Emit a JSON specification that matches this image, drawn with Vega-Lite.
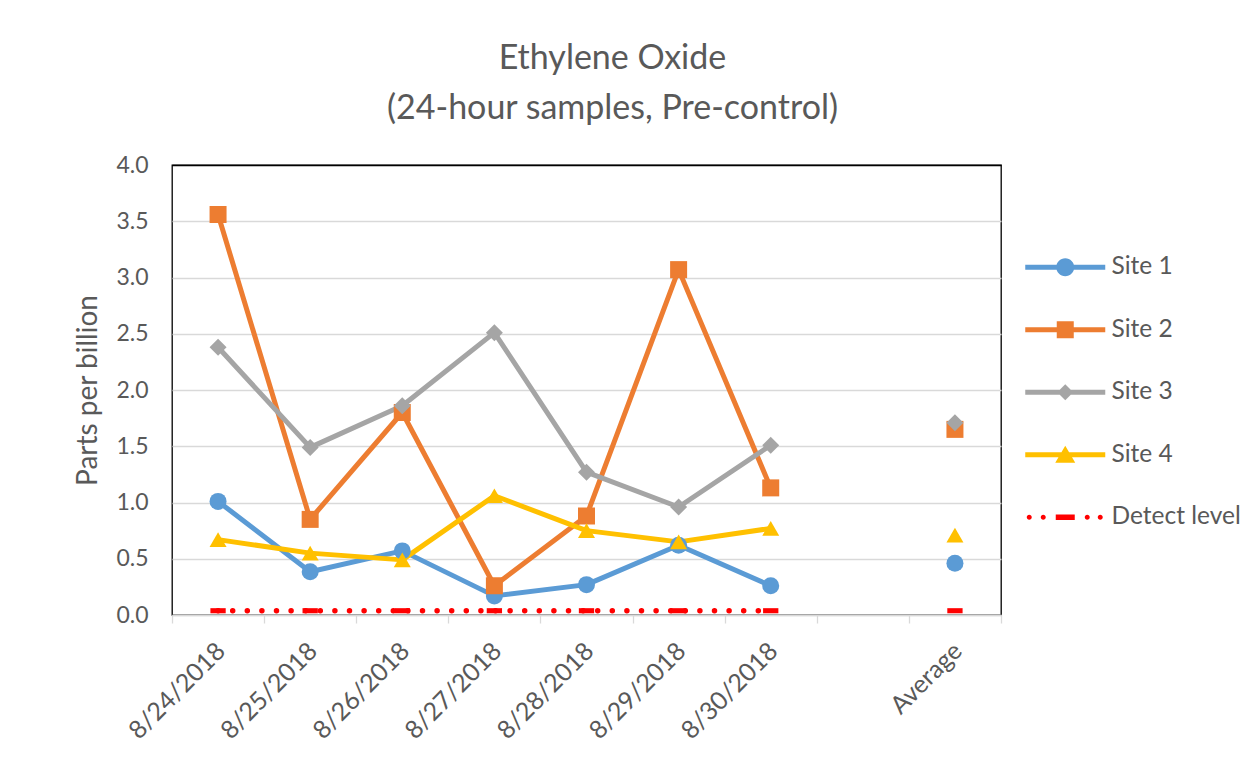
{
  "$schema": "https://vega.github.io/schema/vega-lite/v6.json",
  "width": 829,
  "height": 450,
  "autosize": {"type": "none"},
  "padding": {"left": 172, "top": 165, "right": 251, "bottom": 169},
  "background": "white",
  "title": {
    "text": ["Ethylene Oxide", "(24-hour samples, Pre-control)"],
    "font": "Lato",
    "fontSize": 34,
    "fontWeight": "normal",
    "color": "#595959",
    "lineHeight": 50,
    "offset": 28,
    "dx": 26,
    "anchor": "middle",
    "frame": "group"
  },
  "data": {
    "values": [
      {"date": "8/24/2018", "series": "Site 1", "value": 1.01},
      {"date": "8/25/2018", "series": "Site 1", "value": 0.385},
      {"date": "8/26/2018", "series": "Site 1", "value": 0.57},
      {"date": "8/27/2018", "series": "Site 1", "value": 0.17},
      {"date": "8/28/2018", "series": "Site 1", "value": 0.27},
      {"date": "8/29/2018", "series": "Site 1", "value": 0.62},
      {"date": "8/30/2018", "series": "Site 1", "value": 0.26},
      {"date": "Average", "series": "Site 1", "value": 0.46},
      {"date": "8/24/2018", "series": "Site 2", "value": 3.56},
      {"date": "8/25/2018", "series": "Site 2", "value": 0.85},
      {"date": "8/26/2018", "series": "Site 2", "value": 1.8},
      {"date": "8/27/2018", "series": "Site 2", "value": 0.26},
      {"date": "8/28/2018", "series": "Site 2", "value": 0.88},
      {"date": "8/29/2018", "series": "Site 2", "value": 3.07},
      {"date": "8/30/2018", "series": "Site 2", "value": 1.13},
      {"date": "Average", "series": "Site 2", "value": 1.65},
      {"date": "8/24/2018", "series": "Site 3", "value": 2.38},
      {"date": "8/25/2018", "series": "Site 3", "value": 1.49},
      {"date": "8/26/2018", "series": "Site 3", "value": 1.86},
      {"date": "8/27/2018", "series": "Site 3", "value": 2.51},
      {"date": "8/28/2018", "series": "Site 3", "value": 1.27},
      {"date": "8/29/2018", "series": "Site 3", "value": 0.96},
      {"date": "8/30/2018", "series": "Site 3", "value": 1.51},
      {"date": "Average", "series": "Site 3", "value": 1.71},
      {"date": "8/24/2018", "series": "Site 4", "value": 0.67},
      {"date": "8/25/2018", "series": "Site 4", "value": 0.55},
      {"date": "8/26/2018", "series": "Site 4", "value": 0.49},
      {"date": "8/27/2018", "series": "Site 4", "value": 1.06},
      {"date": "8/28/2018", "series": "Site 4", "value": 0.75},
      {"date": "8/29/2018", "series": "Site 4", "value": 0.65},
      {"date": "8/30/2018", "series": "Site 4", "value": 0.77},
      {"date": "Average", "series": "Site 4", "value": 0.71},
      {"date": "8/24/2018", "series": "Detect level", "value": 0.038},
      {"date": "8/25/2018", "series": "Detect level", "value": 0.038},
      {"date": "8/26/2018", "series": "Detect level", "value": 0.038},
      {"date": "8/27/2018", "series": "Detect level", "value": 0.038},
      {"date": "8/28/2018", "series": "Detect level", "value": 0.038},
      {"date": "8/29/2018", "series": "Detect level", "value": 0.038},
      {"date": "8/30/2018", "series": "Detect level", "value": 0.038},
      {"date": "Average", "series": "Detect level", "value": 0.038}
    ]
  },
  "encoding": {
    "x": {
      "field": "date",
      "type": "ordinal",
      "sort": null,
      "title": null,
      "scale": {
        "type": "band",
        "domain": ["8/24/2018", "8/25/2018", "8/26/2018", "8/27/2018", "8/28/2018", "8/29/2018", "8/30/2018", " ", "Average"],
        "paddingInner": 0,
        "paddingOuter": 0
      },
      "axis": {
        "grid": false,
        "domainColor": "#d9d9d9",
        "domainWidth": 1.3,
        "tickColor": "#d9d9d9",
        "tickWidth": 1.3,
        "tickSize": 8,
        "tickBand": "extent",
        "labelAngle": -45,
        "labelFont": "Lato",
        "labelFontSize": 25,
        "labelColor": "#595959",
        "labelPadding": 15,
        "labelOffset": -6
      }
    },
    "y": {
      "field": "value",
      "type": "quantitative",
      "title": "Parts per billion",
      "scale": {"domain": [0, 4], "nice": false, "zero": true},
      "axis": {
        "values": [0, 0.5, 1, 1.5, 2, 2.5, 3, 3.5, 4],
        "format": ".1f",
        "ticks": false,
        "tickSize": 0,
        "domain": false,
        "grid": true,
        "gridColor": {"condition": {"test": "datum.value === 4", "value": "#000000"}, "value": "#d9d9d9"},
        "gridWidth": 1.3,
        "labelFont": "Lato",
        "labelFontSize": 23,
        "labelColor": "#595959",
        "labelPadding": 24,
        "titleFont": "Lato",
        "titleFontSize": 28,
        "titleFontWeight": "normal",
        "titleColor": "#595959",
        "titlePadding": 13
      }
    },
    "color": {
      "field": "series",
      "type": "nominal",
      "legend": null,
      "scale": {
        "domain": ["Site 1", "Site 2", "Site 3", "Site 4", "Detect level"],
        "range": ["#5B9BD5", "#ED7D31", "#A5A5A5", "#FFC000", "#FF0000"]
      }
    }
  },
  "layer": [
    {
      "transform": [{"filter": "datum.series !== 'Detect level' && datum.date !== 'Average'"}],
      "mark": {"type": "line", "strokeWidth": 5, "strokeCap": "round", "strokeJoin": "round"},
      "encoding": {}
    },
    {
      "transform": [{"filter": "datum.series === 'Detect level' && datum.date !== 'Average'"}],
      "mark": {"type": "line", "strokeWidth": 5.4, "strokeCap": "round", "strokeDash": [0.1, 14.5]},
      "encoding": {}
    },
    {
      "mark": {"type": "point", "filled": true, "opacity": 1, "size": 289, "strokeWidth": 0},
      "encoding": {
        "shape": {
          "field": "series",
          "type": "nominal",
          "legend": null,
          "scale": {
            "domain": ["Site 1", "Site 2", "Site 3", "Site 4", "Detect level"],
            "range": ["circle", "square", "diamond", "triangle-up", "M-0.9,-0.3H0.9V0.3H-0.9Z"]
          }
        }
      }
    },
    {
      "transform": [{"filter": "datum.value < -100"}],
      "mark": {"type": "point", "filled": true, "opacity": 1, "strokeWidth": 0},
      "encoding": {
        "color": {
          "field": "series",
          "type": "nominal",
          "legend": {
            "title": null,
            "orient": "none",
            "legendX": 881,
            "legendY": 90,
            "padding": 0,
            "symbolSize": 400,
            "symbolStrokeWidth": 0,
            "symbolOpacity": 1,
            "labelOffset": 34,
            "rowPadding": 37.5,
            "labelFont": "Lato",
            "labelFontSize": 24.5,
            "labelColor": "#595959",
            "labelLimit": 300
          }
        },
        "shape": {
          "field": "series",
          "type": "nominal",
          "scale": {
            "domain": ["Site 1", "Site 2", "Site 3", "Site 4", "Detect level"],
            "range": [
              "M-4,-0.25H4V0.25H-4Z M0,-0.9A0.9,0.9 0 1,1 0,0.9A0.9,0.9 0 1,1 0,-0.9Z",
              "M-4,-0.25H4V0.25H-4Z M-0.85,-0.85H0.85V0.85H-0.85Z",
              "M-4,-0.25H4V0.25H-4Z M0,-0.8L0.8,0L0,0.8L-0.8,0Z",
              "M-4,-0.25H4V0.25H-4Z M0,-0.9L1,0.8L-1,0.8Z",
              "M-3.6,-0.25A0.25,0.25 0 1,1 -3.6,0.25A0.25,0.25 0 1,1 -3.6,-0.25Z M-2.2,-0.25A0.25,0.25 0 1,1 -2.2,0.25A0.25,0.25 0 1,1 -2.2,-0.25Z M-0.95,-0.27H0.95V0.27H-0.95Z M2.2,-0.25A0.25,0.25 0 1,1 2.2,0.25A0.25,0.25 0 1,1 2.2,-0.25Z M3.5,-0.25A0.25,0.25 0 1,1 3.5,0.25A0.25,0.25 0 1,1 3.5,-0.25Z"
            ]
          },
          "legend": {
            "title": null,
            "orient": "none",
            "legendX": 881,
            "legendY": 90,
            "padding": 0,
            "symbolSize": 400,
            "symbolStrokeWidth": 0,
            "symbolOpacity": 1,
            "labelOffset": 34,
            "rowPadding": 37.5,
            "labelFont": "Lato",
            "labelFontSize": 24.5,
            "labelColor": "#595959",
            "labelLimit": 300
          }
        }
      }
    }
  ],
  "resolve": {
    "scale": {"shape": "independent"},
    "legend": {"shape": "independent", "color": "independent"}
  },
  "config": {
    "font": "Lato",
    "view": {"stroke": "#000000", "strokeWidth": 1.3}
  }
}
